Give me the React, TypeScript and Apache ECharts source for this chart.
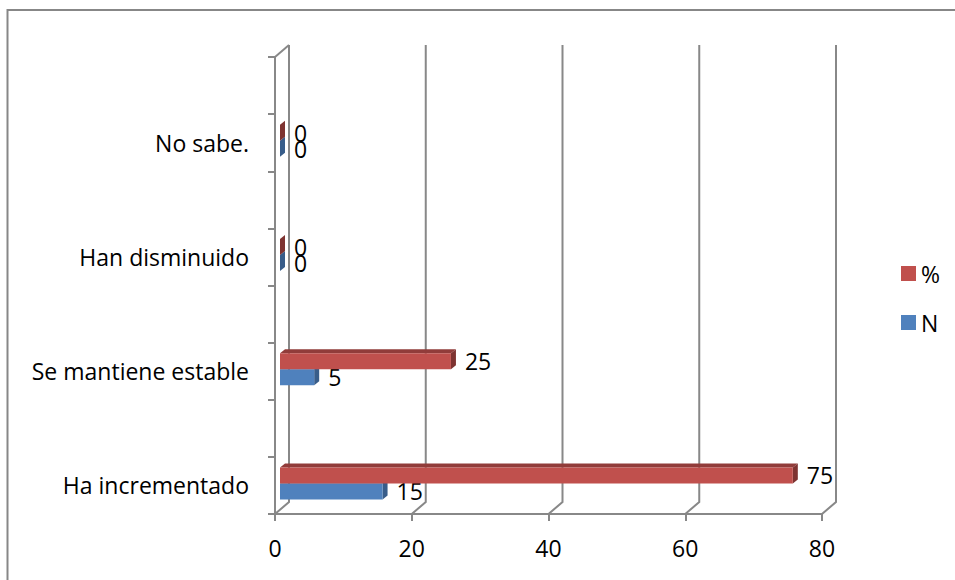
import React, { useEffect, useRef } from 'react';
import * as echarts from 'echarts';

// Respuestas por categoría (de abajo hacia arriba)
const categories = ['Ha incrementado', 'Se mantiene estable', 'Han disminuido', 'No sabe.'];
const seriesNames = ['%', 'N'];
const percentValues = [75, 25, 0, 0];
const countValues = [15, 5, 0, 0];
const xTicks = [0, 20, 40, 60, 80];

const FONT = "'Open Sans', sans-serif";
const FONT_SIZE = 23;
const GRID_COLOR = '#888888';
const WALL = { dx: 14, dy: -12 };      // offset of the back wall
const BAR_SHIFT = { dx: 5, dy: -2 };   // bars sit a little inside the depth
const BAR_DEPTH = { dx: 5, dy: -4 };   // thickness of each 3D bar
const BAR_H = 16;

const COLORS = {
  pct: { front: '#c0504d', top: '#913c3a', side: '#7e3331' },
  n: { front: '#4f81bd', top: '#3b6190', side: '#385d8a' },
};

// category axis: each answer followed by an empty slot
const axisCategories = categories.flatMap((c) => [c, '']);

const makeBarRenderer = (upper: boolean, c: { front: string; top: string; side: string }) =>
  (params: any, api: any) => {
    const value = api.value(0);
    const slot = api.value(1);
    const start = api.coord([0, slot]);
    const end = api.coord([value, slot]);
    const x0 = start[0] + BAR_SHIFT.dx;
    const x1 = end[0] + BAR_SHIFT.dx;
    const yt = start[1] + BAR_SHIFT.dy + (upper ? -BAR_H : 0);
    const yb = yt + BAR_H;
    const { dx, dy } = BAR_DEPTH;
    return {
      type: 'group',
      children: [
        {
          type: 'polygon',
          shape: { points: [[x0, yt], [x1, yt], [x1 + dx, yt + dy], [x0 + dx, yt + dy]] },
          style: { fill: c.top },
        },
        {
          type: 'polygon',
          shape: { points: [[x1, yt], [x1 + dx, yt + dy], [x1 + dx, yb + dy], [x1, yb]] },
          style: { fill: c.side },
        },
        {
          type: 'rect',
          shape: { x: x0, y: yt, width: x1 - x0, height: BAR_H },
          style: { fill: c.front },
        },
        {
          type: 'text',
          x: x1 + dx + 9,
          y: yt + BAR_H / 2,
          style: {
            text: String(value),
            fill: '#000',
            font: `${FONT_SIZE}px ${FONT}`,
            align: 'left',
            verticalAlign: 'middle',
          },
        },
      ],
    };
  };

const renderWall = (params: any, api: any) => {
  const v = api.value(0);
  const cs = params.coordSys;
  const x = api.coord([v, 0])[0];
  const top = cs.y;
  const bottom = cs.y + cs.height;
  const style = { stroke: GRID_COLOR, lineWidth: 2, fill: 'none' };
  const children: any[] = [
    {
      type: 'polyline',
      shape: { points: [[x, bottom], [x + WALL.dx, bottom + WALL.dy], [x + WALL.dx, top + WALL.dy]] },
      style,
    },
  ];
  if (v === xTicks[0]) {
    children.push({
      type: 'line',
      shape: { x1: x, y1: top, x2: x + WALL.dx, y2: top + WALL.dy },
      style,
    });
  }
  return { type: 'group', children };
};

export default function App() {
  const ref = useRef<HTMLDivElement>(null);

  useEffect(() => {
    if (!ref.current) return;
    const chart = echarts.init(ref.current, null, { renderer: 'svg' });
    const axisLine = { show: true, lineStyle: { color: GRID_COLOR, width: 2 } };
    const axisTick = { show: true, length: 7, lineStyle: { color: GRID_COLOR, width: 2 } };

    chart.setOption({
      animation: false,
      backgroundColor: '#ffffff',
      textStyle: { fontFamily: FONT },
      grid: { left: 275, top: 57, width: 547, height: 457, containLabel: false },
      xAxis: {
        type: 'value',
        min: xTicks[0],
        max: xTicks[xTicks.length - 1],
        interval: 20,
        axisLine,
        axisTick,
        splitLine: { show: false },
        axisLabel: { color: '#000', fontSize: FONT_SIZE, fontFamily: FONT, margin: 22 },
      },
      yAxis: {
        type: 'category',
        data: axisCategories,
        boundaryGap: true,
        axisLine,
        axisTick: { ...axisTick, interval: 0 },
        axisLabel: { color: '#000', fontSize: FONT_SIZE, fontFamily: FONT, margin: 26, interval: 0 },
      },
      legend: {
        data: seriesNames,
        orient: 'vertical',
        left: 896,
        top: 257,
        icon: 'rect',
        itemWidth: 15,
        itemHeight: 15,
        itemGap: 26,
        textStyle: { color: '#000', fontSize: FONT_SIZE, fontFamily: FONT, lineHeight: 20 },
      },
      graphic: [
        {
          type: 'polyline',
          shape: { points: [[7.5, 600], [7.5, 10], [980, 10]] },
          style: { stroke: '#878787', lineWidth: 2, fill: 'none' },
        },
      ],
      series: [
        {
          type: 'custom',
          name: 'wall',
          z: 1,
          silent: true,
          renderItem: renderWall,
          data: xTicks.map((t) => [t, 0]),
          encode: { x: 0, y: 1 },
        },
        {
          type: 'custom',
          name: seriesNames[1],
          z: 2,
          itemStyle: { color: COLORS.n.front },
          renderItem: makeBarRenderer(false, COLORS.n),
          data: countValues.map((v, i) => [v, 2 * i]),
          encode: { x: 0, y: 1 },
        },
        {
          type: 'custom',
          name: seriesNames[0],
          z: 3,
          itemStyle: { color: COLORS.pct.front },
          renderItem: makeBarRenderer(true, COLORS.pct),
          data: percentValues.map((v, i) => [v, 2 * i]),
          encode: { x: 0, y: 1 },
        },
      ],
    });

    return () => chart.dispose();
  }, []);

  return (
    <div
      ref={ref}
      style={{ position: 'fixed', left: 0, top: 0, width: 955, height: 580 }}
    />
  );
}
